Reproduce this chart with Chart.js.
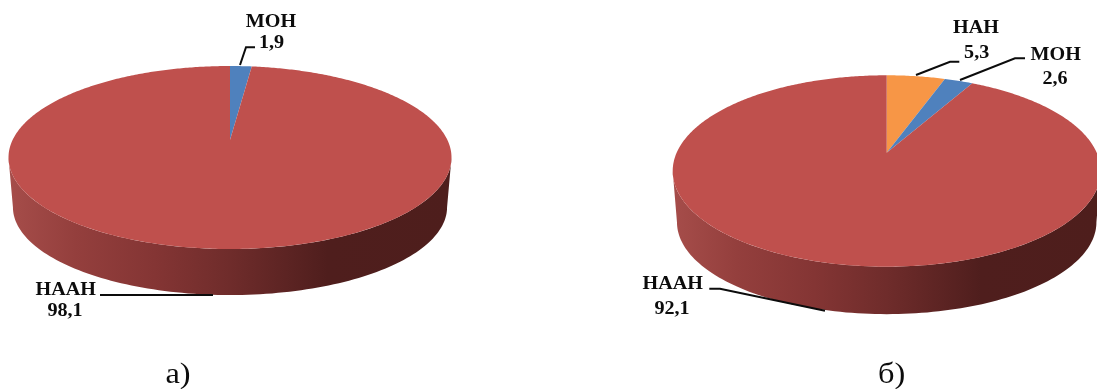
<!DOCTYPE html>
<html>
<head>
<meta charset="utf-8">
<style>
  html, body { margin: 0; padding: 0; background: #fff; }
  body { position: relative; width: 1097px; height: 389px; overflow: hidden; }
  canvas { position: absolute; top: 0; }
</style>
<script src="https://cdn.jsdelivr.net/npm/chart.js@4"></script>
</head>
<body>
<canvas id="pieA" width="548" height="389" style="left:0"></canvas>
<canvas id="pieB" width="549" height="389" style="left:548px"></canvas>
<script>
"use strict";

// ── Data ─────────────────────────────────────────────────────────────────────
const labelsA = ["МОН", "НААН"];
const valuesA = [1.9, 98.1];
const colorsA = ["#4F81BD", "#BF504D"];

const labelsB = ["НАН", "МОН", "НААН"];
const valuesB = [5.3, 2.6, 92.1];
const colorsB = ["#F79646", "#4F81BD", "#BF504D"];

// ── Layout (page pixels) ─────────────────────────────────────────────────────
const shapeA = { cx: 230, apexY: 140, halfW: 221.5, far: 74, near: 109, drop: 50.4 };
const shapeB = { cx: 886.7, apexY: 152.7, halfW: 214, far: 77.4, near: 114, drop: 52 };

const calloutsA = [
  { name: [271, 27], value: [271.5, 48], line: [[240, 65], [246, 47.3], [255, 47.3]] },
  { name: [65.7, 295], value: [65, 316], line: [[100, 295], [213, 295]] },
];
const calloutsB = [
  { name: [976, 32.5], value: [976.7, 57.5], line: [[916, 75], [950, 61.7], [959.3, 61.7]] },
  { name: [1055.7, 59.5], value: [1055, 83.5], line: [[960, 80], [1015, 58.3], [1025, 58.3]] },
  { name: [672.7, 289], value: [672, 313.5], line: [[709.3, 288.7], [720, 288.7], [825, 310.7]] },
];

const WALL_STOPS = [
  [0, "#a64d4a"], [0.15, "#943f3d"], [0.33, "#843534"], [0.5, "#6f2c2b"],
  [0.72, "#4f1e1d"], [1, "#4e1e1c"],
];

// ── Tilted pie: library arcs seen in perspective ─────────────────────────────
function projector(s) {
  const k = (s.near - s.far) / (s.near + s.far);
  const b = s.near * (1 - k);
  const a = s.halfW * Math.sqrt(1 - k * k);
  return {
    k,
    at(angle, sx = 1, sy = 1, dy = 0) {
      const x = Math.cos(angle), y = Math.sin(angle), w = 1 - k * y;
      return [s.cx + sx * a * x / w, s.apexY + dy + sy * b * y / w];
    },
  };
}

function drawWall(ctx, s, p) {
  const right = Math.asin(p.k), left = Math.PI - right;
  const steps = 120;
  ctx.beginPath();
  for (let i = 0; i <= steps; i++) {
    const pt = p.at(right + (left - right) * i / steps);
    ctx.lineTo(pt[0], pt[1]);
  }
  for (let i = steps; i >= 0; i--) {
    const pt = p.at(right + (left - right) * i / steps, 0.98, 0.96, s.drop);
    ctx.lineTo(pt[0], pt[1]);
  }
  ctx.closePath();
  const grad = ctx.createLinearGradient(s.cx - s.halfW, 0, s.cx + s.halfW, 0);
  WALL_STOPS.forEach(([o, c]) => grad.addColorStop(o, c));
  ctx.fillStyle = grad;
  ctx.fill();
}

function drawSlice(ctx, s, p, arc) {
  const start = arc.startAngle, end = arc.endAngle;
  const steps = Math.max(4, Math.ceil((end - start) * 90));
  ctx.beginPath();
  ctx.moveTo(s.cx, s.apexY);
  for (let i = 0; i <= steps; i++) {
    const pt = p.at(start + (end - start) * i / steps);
    ctx.lineTo(pt[0], pt[1]);
  }
  ctx.closePath();
  ctx.fillStyle = arc.options.backgroundColor;
  ctx.fill();
}

function drawText(ctx, text, x, y, font, stretch) {
  ctx.save();
  ctx.translate(x, y);
  ctx.scale(stretch, 1);
  ctx.font = font;
  ctx.fillStyle = "#0c0c0c";
  ctx.textAlign = "center";
  ctx.textBaseline = "alphabetic";
  ctx.fillText(text, 0, 0);
  ctx.restore();
}

const tiltedPie = {
  id: "tiltedPie",
  beforeDatasetDraw(chart, args, opts) {
    const { ctx } = chart;
    const p = projector(opts.shape);
    ctx.save();
    ctx.translate(-opts.offset, 0);
    drawWall(ctx, opts.shape, p);
    chart.getDatasetMeta(args.index).data.forEach(arc => drawSlice(ctx, opts.shape, p, arc));
    ctx.restore();
    return false;
  },
  afterDatasetsDraw(chart, args, opts) {
    const { ctx } = chart;
    const values = chart.data.datasets[0].data;
    ctx.save();
    ctx.translate(-opts.offset, 0);
    ctx.strokeStyle = "#0c0c0c";
    ctx.lineWidth = 2;
    opts.callouts.forEach((c, i) => {
      ctx.beginPath();
      c.line.forEach(pt => ctx.lineTo(pt[0], pt[1]));
      ctx.stroke();
      const font = 'bold 19px "Liberation Serif"';
      drawText(ctx, chart.data.labels[i], c.name[0], c.name[1], font, 1.06);
      drawText(ctx, String(values[i]).replace(".", ","), c.value[0], c.value[1], font, 1.06);
    });
    drawText(ctx, opts.caption, opts.captionX, 383, '30px "Liberation Serif"', 1.08);
    ctx.restore();
  },
};

function makePie(id, labels, values, colors, tilted) {
  return new Chart(document.getElementById(id), {
    type: "pie",
    data: { labels, datasets: [{ data: values, backgroundColor: colors, borderWidth: 0 }] },
    options: {
      responsive: false,
      animation: false,
      events: [],
      plugins: {
        legend: { display: false },
        tooltip: { enabled: false },
        tiltedPie: tilted,
      },
    },
    plugins: [tiltedPie],
  });
}

// ── Init ─────────────────────────────────────────────────────────────────────
makePie("pieA", labelsA, valuesA, colorsA,
  { shape: shapeA, callouts: calloutsA, offset: 0, caption: "а)", captionX: 178 });
makePie("pieB", labelsB, valuesB, colorsB,
  { shape: shapeB, callouts: calloutsB, offset: 548, caption: "б)", captionX: 891.7 });
</script>
</body>
</html>
